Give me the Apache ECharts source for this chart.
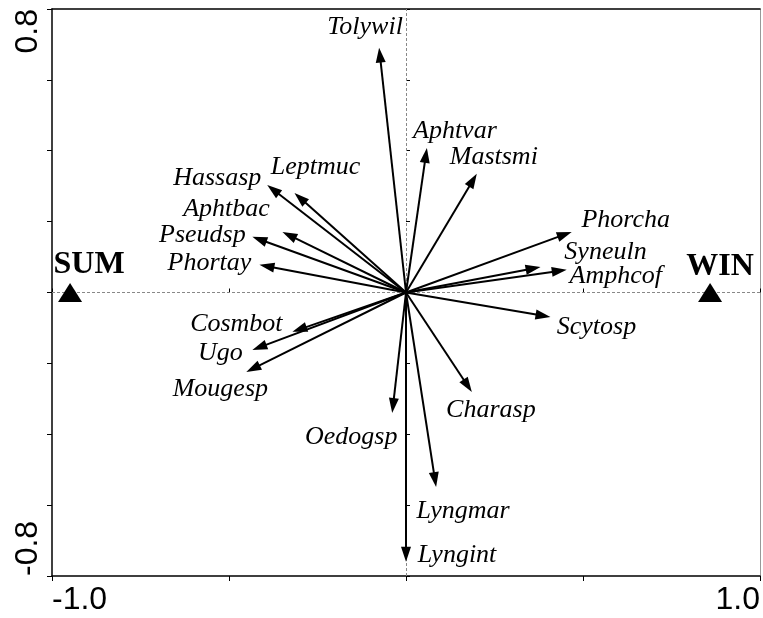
<!DOCTYPE html>
<html>
<head>
<meta charset="utf-8">
<script src="https://cdn.jsdelivr.net/npm/echarts@6/dist/echarts.min.js"></script>
<style>
  html, body { margin: 0; padding: 0; background: #fff; }
  #chart { width: 763px; height: 618px; }
</style>
</head>
<body>
<div id="chart"></div>
<script>
// species vectors (arrow tips)
var species = ['Tolywil', 'Aphtvar', 'Mastsmi', 'Hassasp', 'Leptmuc', 'Aphtbac', 'Pseudsp', 'Phortay',
               'Cosmbot', 'Ugo', 'Mougesp', 'Oedogsp', 'Lyngint', 'Lyngmar', 'Charasp',
               'Phorcha', 'Syneuln', 'Amphcof', 'Scytosp'];
var speciesX = [-0.076, 0.059, 0.200, -0.392, -0.315, -0.349, -0.434, -0.414,
                -0.321, -0.434, -0.451, -0.039, 0.000, 0.085, 0.186,
                0.468, 0.380, 0.454, 0.408];
var speciesY = [0.691, 0.408, 0.335, 0.303, 0.281, 0.171, 0.157, 0.078,
                -0.111, -0.162, -0.224, -0.340, -0.760, -0.549, -0.281,
                0.171, 0.072, 0.064, -0.069];

// season centroids
var sites = ['SUM', 'WIN'];
var siteX = [-0.949, 0.859];
var siteY = [0, 0];

// tick labels
var xTickLabels = ['-1.0', '1.0'];
var yTickLabels = ['-0.8', '0.8'];

// label placement (pixel offset of the text centre from the arrow tip)
var labelOffset = {
  Tolywil: [-14, -20], Aphtvar: [28, -17], Mastsmi: [17, -17], Hassasp: [-50, -7],
  Leptmuc: [21, -26], Aphtbac: [-56, -23], Pseudsp: [-50, -2], Phortay: [-50, -2],
  Cosmbot: [-56, -8], Ugo: [-32, 3], Mougesp: [-26, 17], Oedogsp: [-41, 24],
  Lyngint: [51, -7], Lyngmar: [27, 24], Charasp: [19, 18],
  Phorcha: [54, -12], Syneuln: [65, -15], Amphcof: [49, 6], Scytosp: [46, 10]
};
var siteLabelOffset = { SUM: [19, -28], WIN: [10, -26] };

var chart = echarts.init(document.getElementById('chart'));

var arrowData = species.map(function (n, i) { return [speciesX[i], speciesY[i], i]; });
var siteData = sites.map(function (n, i) {
  return { name: n, value: [siteX[i], siteY[i]], label: { offset: siteLabelOffset[n] } };
});

function renderArrow(params, api) {
  var i = api.value(2);
  var o = api.coord([0, 0]);
  var t = api.coord([api.value(0), api.value(1)]);
  var dx = t[0] - o[0], dy = t[1] - o[1];
  var len = Math.sqrt(dx * dx + dy * dy);
  var ux = dx / len, uy = dy / len;
  var hl = 15, hw = 5;
  var bx = t[0] - ux * hl, by = t[1] - uy * hl;
  var off = labelOffset[species[i]];
  return {
    type: 'group',
    children: [
      {
        type: 'line',
        shape: { x1: o[0], y1: o[1], x2: bx + ux * 2, y2: by + uy * 2 },
        style: { stroke: '#000', lineWidth: 2 }
      },
      {
        type: 'polygon',
        shape: { points: [[t[0], t[1]], [bx - uy * hw, by + ux * hw], [bx + uy * hw, by - ux * hw]] },
        style: { fill: '#000' }
      },
      {
        type: 'text',
        x: t[0] + off[0],
        y: t[1] + off[1],
        style: {
          text: species[i],
          fill: '#000',
          font: 'italic 26px "Liberation Serif", "Times New Roman", serif',
          align: 'center',
          verticalAlign: 'middle'
        }
      }
    ]
  };
}

var labelFont = { fontFamily: '"Liberation Sans", Arial, sans-serif', fontSize: 32, color: '#000' };

var option = {
  animation: false,
  backgroundColor: '#fff',
  grid: { left: 52, right: 1, top: 9, bottom: 42, containLabel: false },
  xAxis: [
    {
      type: 'value', min: -1, max: 1, interval: 0.5, position: 'bottom',
      axisLine: { show: true, onZero: false, lineStyle: { color: '#000', width: 1.5 } },
      axisTick: { show: true, length: 5, lineStyle: { color: '#000' } },
      splitLine: { show: false },
      axisLabel: Object.assign({
        margin: 8,
        alignMinLabel: 'left',
        alignMaxLabel: 'right',
        formatter: function (v) {
          if (Math.abs(v + 1) < 1e-6) return xTickLabels[0];
          if (Math.abs(v - 1) < 1e-6) return xTickLabels[1];
          return '';
        }
      }, labelFont)
    },
    {
      type: 'value', min: -1, max: 1, position: 'top',
      axisLine: { show: true, onZero: false, lineStyle: { color: '#000', width: 1.5 } },
      axisTick: { show: false }, axisLabel: { show: false }, splitLine: { show: false }
    },
    {
      type: 'value', min: -1, max: 1, interval: 0.5, position: 'bottom',
      axisLine: { show: false },
      axisTick: { show: true, inside: true, length: 4, lineStyle: { color: '#000' } },
      axisLabel: { show: false }, splitLine: { show: false }
    }
  ],
  yAxis: [
    {
      type: 'value', min: -0.8, max: 0.8, interval: 0.2, position: 'left',
      axisLine: { show: true, onZero: false, lineStyle: { color: '#000', width: 1.5 } },
      axisTick: { show: true, length: 5, lineStyle: { color: '#000' } },
      splitLine: { show: false },
      axisLabel: Object.assign({
        rotate: 90,
        margin: 8,
        alignMinLabel: 'left',
        alignMaxLabel: 'right',
        formatter: function (v) {
          if (Math.abs(v + 0.8) < 1e-6) return yTickLabels[0];
          if (Math.abs(v - 0.8) < 1e-6) return yTickLabels[1];
          return '';
        }
      }, labelFont)
    },
    {
      type: 'value', min: -0.8, max: 0.8, interval: 0.2, position: 'left',
      axisLine: { show: false },
      axisTick: { show: true, inside: true, length: 4, lineStyle: { color: '#000' } },
      axisLabel: { show: false }, splitLine: { show: false }
    },
    {
      type: 'value', min: -0.8, max: 0.8, position: 'right',
      axisLine: { show: true, onZero: false, lineStyle: { color: '#999', width: 1 } },
      axisTick: { show: false }, axisLabel: { show: false }, splitLine: { show: false }
    }
  ],
  series: [
    {
      type: 'scatter',
      silent: true,
      symbolSize: 0,
      data: [],
      markLine: {
        silent: true,
        symbol: ['none', 'none'],
        label: { show: false },
        lineStyle: { color: '#888', type: [3, 2], width: 1 },
        data: [{ xAxis: 0 }, { yAxis: 0 }]
      }
    },
    {
      type: 'custom',
      renderItem: renderArrow,
      data: arrowData,
      z: 5
    },
    {
      type: 'scatter',
      symbol: 'triangle',
      symbolSize: [24, 19],
      itemStyle: { color: '#000', opacity: 1 },
      label: {
        show: true,
        position: 'inside',
        formatter: '{b}',
        color: '#000',
        fontFamily: '"Liberation Serif", "Times New Roman", serif',
        fontWeight: 'bold',
        fontSize: 32
      },
      data: siteData,
      z: 6
    }
  ]
};

chart.setOption(option);
</script>
</body>
</html>
